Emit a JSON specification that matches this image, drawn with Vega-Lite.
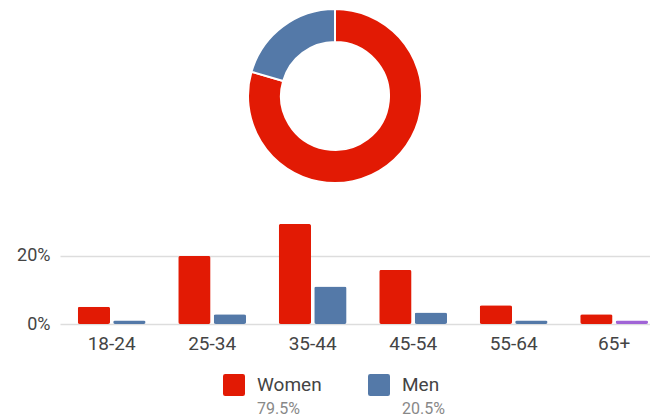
{
  "$schema": "https://vega.github.io/schema/vega-lite/v6.json",
  "padding": {"left": 5, "top": 0, "right": 0, "bottom": 0},
  "spacing": 0,
  "config": {"view": {"stroke": null}, "font": "Roboto", "concat": {"spacing": 0}},
  "datasets": {
    "share": [
      {"gender": "Women", "share": 0.795},
      {"gender": "Men", "share": 0.205}
    ],
    "ages": [
      {"age": "18-24", "gender": "Women", "pct": 0.051},
      {"age": "18-24", "gender": "Men", "pct": 0.010},
      {"age": "25-34", "gender": "Women", "pct": 0.200},
      {"age": "25-34", "gender": "Men", "pct": 0.029},
      {"age": "35-44", "gender": "Women", "pct": 0.294},
      {"age": "35-44", "gender": "Men", "pct": 0.110},
      {"age": "45-54", "gender": "Women", "pct": 0.159},
      {"age": "45-54", "gender": "Men", "pct": 0.034},
      {"age": "55-64", "gender": "Women", "pct": 0.055},
      {"age": "55-64", "gender": "Men", "pct": 0.010},
      {"age": "65+", "gender": "Women", "pct": 0.029},
      {"age": "65+", "gender": "Men", "pct": 0.010}
    ]
  },
  "vconcat": [
    {
      "width": 550,
      "height": 192,
      "data": {"name": "share"},
      "mark": {"type": "arc", "outerRadius": 87, "innerRadius": 54, "stroke": "white", "strokeWidth": 2},
      "encoding": {
        "theta": {"field": "share", "type": "quantitative", "stack": true},
        "order": {"field": "share", "type": "quantitative", "sort": "descending"},
        "color": {
          "field": "gender", "type": "nominal", "sort": ["Women", "Men"],
          "scale": {"domain": ["Women", "Men"], "range": ["#e21a04", "#5479a8"]},
          "legend": null
        }
      }
    },
    {
      "width": 590,
      "height": 132,
      "data": {"name": "ages"},
      "mark": {"type": "bar", "cornerRadius": 2},
      "encoding": {
        "x": {
          "field": "age", "type": "nominal", "sort": null,
          "scale": {"paddingInner": 0.325, "paddingOuter": 0.098, "align": 0.9},
          "axis": {"domain": false, "ticks": false, "title": null, "labelAngle": 0, "labelFontSize": 19, "labelColor": "#444", "labelPadding": 10}
        },
        "xOffset": {
          "field": "gender", "type": "nominal", "sort": ["Women", "Men"],
          "scale": {"paddingInner": 0.09, "paddingOuter": 0}
        },
        "y": {
          "field": "pct", "type": "quantitative",
          "scale": {"domain": [0, 0.388], "nice": false},
          "axis": {"values": [0, 0.2], "format": "%", "domain": false, "ticks": false, "title": null, "labelFontSize": 18, "labelColor": "#444", "labelPadding": 10, "gridColor": "#dddddd", "gridWidth": 1.5, "minExtent": 55, "maxExtent": 55}
        },
        "color": {
          "condition": {"test": "datum.age === '65+' && datum.gender === 'Men'", "value": "#a064d6"},
          "field": "gender", "type": "nominal",
          "scale": {"domain": ["Women", "Men"], "range": ["#e21a04", "#5479a8"]},
          "legend": null
        }
      }
    },
    {
      "width": 435,
      "height": 64,
      "data": {"name": "share"},
      "encoding": {
        "x": {
          "field": "gender", "type": "nominal", "sort": ["Women", "Men"],
          "scale": {"type": "point", "domain": ["Women", "Men"], "padding": 1, "align": 0.6},
          "axis": null
        }
      },
      "layer": [
        {
          "mark": {"type": "point", "shape": "M-0.8,-1H0.8Q1,-1 1,-0.8V0.8Q1,1 0.8,1H-0.8Q-1,1 -1,0.8V-0.8Q-1,-1 -0.8,-1Z", "filled": true, "size": 484, "opacity": 1},
          "encoding": {
            "color": {
              "field": "gender", "type": "nominal",
              "scale": {"domain": ["Women", "Men"], "range": ["#e21a04", "#5479a8"]},
              "legend": null
            }
          }
        },
        {
          "mark": {"type": "text", "align": "left", "baseline": "middle", "dx": 23, "fontSize": 19, "color": "#444"},
          "encoding": {"text": {"field": "gender", "type": "nominal"}}
        },
        {
          "mark": {"type": "text", "align": "left", "baseline": "middle", "dx": 23, "dy": 24, "fontSize": 16, "color": "#888"},
          "encoding": {"text": {"field": "share", "type": "quantitative", "format": ".1%"}}
        }
      ]
    }
  ]
}
